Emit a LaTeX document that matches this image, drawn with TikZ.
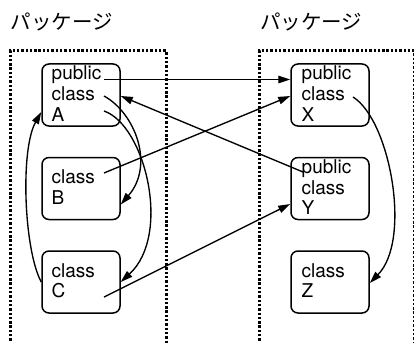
\documentclass[tikz,border=0pt]{standalone}
\usepackage{fontspec}
\setmainfont{TeX Gyre Heros}
\newfontfamily\jpfont{Noto Sans CJK JP}
\usetikzlibrary{arrows.meta}

\tikzset{
  pkg/.style={line width=3pt, dash pattern=on 2.4pt off 1.9pt},
  box/.style={draw, line width=1.5pt, rounded corners=7pt,
    minimum width=78pt, minimum height=62pt, inner sep=0pt},
  txt/.style={anchor=base west, inner sep=0pt,
    font=\fontsize{19}{20.5}\selectfont},
  pkglabel/.style={anchor=base west, inner sep=0pt,
    font=\jpfont\fontsize{20.5}{22}\selectfont},
  conn/.style={line width=1.35pt, -{Triangle[length=12pt,width=7.5pt]}}
}
\newcommand{\lines}[1]{\begin{tabular}[t]{@{}l@{}}#1\end{tabular}}

\begin{document}
\begin{tikzpicture}[x=1pt, y=-1pt]
\useasboundingbox (0,0) rectangle (414,342);

% packages
\draw[pkg] (10,345) -- (10,51) -- (166,51) -- (166,345);
\draw[pkg] (259,345) -- (259,51) -- (414,51) -- (414,345);
\node[pkglabel] (L1) at (10.5,30) {パッケージ};
\node[pkglabel] (L2) at (260,30) {パッケージ};

% classes
\node[box] (A) at (81,95) {};
\node[box] (B) at (81,188.5) {};
\node[box] (C) at (81,282) {};
\node[box] (X) at (330,95) {};
\node[box] (Y) at (330,188.5) {};
\node[box] (Z) at (330,282) {};

\node[txt] (At) at (51.5,80) {\lines{public\\class\\A}};
\node[txt] (Bt) at (51.5,183.5) {\lines{class\\B}};
\node[txt] (Ct) at (51.5,277) {\lines{class\\C}};
\node[txt] (Xt) at (301.5,80) {\lines{public\\class\\X}};
\node[txt] (Yt) at (301.5,173.5) {\lines{public\\class\\Y}};
\node[txt] (Zt) at (301.5,277) {\lines{class\\Z}};

% connector start points inside the class texts
\coordinate (pA1) at (104,79.5);
\coordinate (pA2) at (104,96);
\coordinate (pA3) at (104,111);
\coordinate (pB) at (104,173);
\coordinate (pC) at (104,297);
\coordinate (pX) at (353,97);
\coordinate (pY) at (303,172);

% dependencies
\draw[conn] (pA1) -- (pA1 -| X.west);
\draw[conn] (pB) -- ([yshift=-1pt]X.west);
\draw[conn] (pY) -- ([yshift=-1pt]A.east);
\draw[conn] (pC) -- ([yshift=-15.5pt]Y.west);
\draw[conn] (pA2) .. controls (135,113) and (155,165) .. ([yshift=-16pt]B.east);
\draw[conn] (pA3) .. controls (145,125) and (172,235) .. (C.east);
\draw[conn] (C.west) .. controls (24,250) and (20,150) .. ([yshift=-17pt]A.west);
\draw[conn] (pX) .. controls (390,120) and (412,240) .. ([yshift=-1pt]Z.east);
\end{tikzpicture}
\end{document}
